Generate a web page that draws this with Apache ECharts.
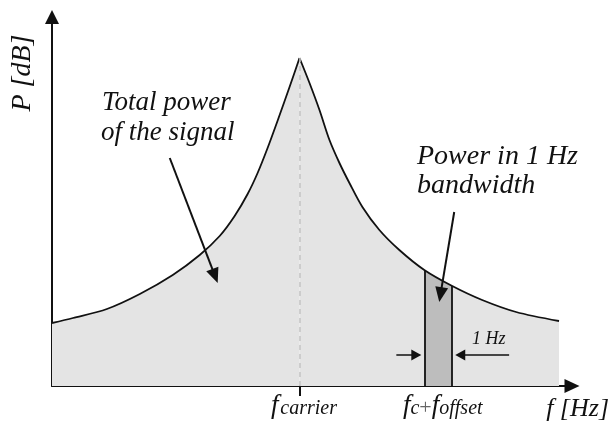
<!DOCTYPE html>
<html>
<head>
<meta charset="utf-8">
<script src="https://cdn.jsdelivr.net/npm/echarts@6/dist/echarts.min.js"></script>
<style>
  html, body { margin: 0; padding: 0; background: #fff; }
  #chart { width: 612px; height: 430px; }
</style>
</head>
<body>
<div id="chart"></div>
<script>
// Spectrum of a carrier with phase noise skirts (relative units: frequency, dB)
const carrierFreq = 24.8;
const leftSkirt = [
  [0, 6.3], [2.1, 6.8], [5.5, 7.7], [8.8, 9.2], [12.1, 11.1], [14.8, 13.1],
  [16.8, 15.0], [18.3, 17.0], [19.6, 19.2], [20.6, 21.3], [21.6, 23.8],
  [22.7, 26.8], [23.8, 29.9], [24.8, 32.8]
];
const rightSkirt = [
  [24.8, 32.8], [25.8, 30.3], [26.8, 27.6], [27.8, 24.6], [28.8, 22.3],
  [29.8, 20.3], [31.1, 17.9], [32.8, 15.6], [34.8, 13.6], [37.3, 11.6],
  [40.1, 10.0], [43.1, 8.6], [46.5, 7.4], [50.8, 6.5]
];
// 1 Hz measurement bin at f_c + f_offset
const binEdges = [37.3, 40.1];
const binTop = [[37.3, 11.6], [38.7, 10.75], [40.1, 10.0]];
const binCenter = 38.7;

// Annotation arrows: [from, to] in data units
const arrowTotal = [[11.8, 22.8], [16.6, 10.3]];
const arrowBin = [[40.3, 17.4], [38.8, 8.4]];
const arrowWidthLeft = [[34.5, 3.1], [37.0, 3.1]];
const arrowWidthRight = [[45.8, 3.1], [40.4, 3.1]];

const INK = '#111';
const SERIF = '"Liberation Serif", "DejaVu Serif", serif';
const SMOOTH = 0.3;

const chart = echarts.init(document.getElementById('chart'), null, { renderer: 'canvas' });

const flat = { symbol: 'none', animation: false, silent: true };

chart.setOption({
  animation: false,
  backgroundColor: '#fff',
  grid: { left: 52, top: 17, width: 521, height: 369 },
  xAxis: {
    type: 'value', min: 0, max: 52.1,
    splitLine: { show: false },
    axisLine: {
      show: true, onZero: false,
      symbol: ['none', 'triangle'], symbolSize: [14, 15],
      lineStyle: { color: INK, width: 2 }
    },
    axisTick: {
      show: true, customValues: [carrierFreq], length: 10,
      lineStyle: { color: INK, width: 2 }
    },
    axisLabel: {
      show: true, customValues: [carrierFreq, binCenter], margin: 6,
      fontFamily: SERIF, fontStyle: 'italic', color: INK,
      formatter: function (v) {
        if (Math.abs(v - carrierFreq) < 1e-6) return '{g| }{f|f}{s|\u200Acarrier}';
        return '{g| }{f|f}{s|c}{p|+}{f|f}{s|offset}';
      },
      rich: {
        g: { width: 9, fontSize: 10, lineHeight: 10, verticalAlign: 'bottom' },
        f: { fontSize: 27, lineHeight: 27, verticalAlign: 'bottom', fontFamily: SERIF, fontStyle: 'italic', color: INK },
        s: { fontSize: 20, lineHeight: 20, verticalAlign: 'bottom', fontFamily: SERIF, fontStyle: 'italic', color: INK },
        p: { fontSize: 22, lineHeight: 22, verticalAlign: 'bottom', fontFamily: SERIF, fontStyle: 'normal', color: '#666' }
      }
    },
    name: 'f [Hz]', nameLocation: 'end', nameGap: 37,
    nameTextStyle: {
      fontFamily: SERIF, fontStyle: 'italic', fontSize: 26, color: INK,
      align: 'right', verticalAlign: 'top', padding: [10, 0, 0, 0]
    }
  },
  yAxis: {
    type: 'value', min: 0, max: 36.9,
    splitLine: { show: false },
    axisTick: { show: false },
    axisLabel: { show: false },
    axisLine: {
      show: true, onZero: false,
      symbol: ['none', 'triangle'], symbolSize: [14, 14],
      lineStyle: { color: INK, width: 2 }
    }
  },
  series: [
    {
      type: 'line', data: leftSkirt, smooth: SMOOTH, ...flat, z: 1,
      lineStyle: { width: 0, opacity: 0 },
      areaStyle: { color: '#e4e4e4', opacity: 1 },
      markLine: {
        silent: true, symbol: ['none', 'none'], label: { show: false }, animation: false,
        lineStyle: { color: '#c4c4c4', width: 1.5, type: [5, 4] },
        data: [[{ coord: [carrierFreq, 0] }, { coord: leftSkirt[leftSkirt.length - 1] }]]
      }
    },
    {
      type: 'line', data: rightSkirt, smooth: SMOOTH, ...flat, z: 1,
      lineStyle: { width: 0, opacity: 0 },
      areaStyle: { color: '#e4e4e4', opacity: 1 }
    },
    {
      type: 'line', data: binTop, smooth: SMOOTH, ...flat, z: 2,
      lineStyle: { width: 0, opacity: 0 },
      areaStyle: { color: '#bdbdbd', opacity: 1 },
      markLine: {
        silent: true, symbol: ['none', 'none'], label: { show: false }, animation: false,
        lineStyle: { color: INK, width: 1.8, type: 'solid' },
        data: [
          [{ coord: [binEdges[0], 0] }, { coord: binTop[0] }],
          [{ coord: [binEdges[1], 0] }, { coord: binTop[binTop.length - 1] }]
        ]
      }
    },
    {
      type: 'line', data: leftSkirt, smooth: SMOOTH, ...flat, z: 3,
      lineStyle: { color: INK, width: 1.8 }
    },
    {
      type: 'line', data: rightSkirt, smooth: SMOOTH, ...flat, z: 3,
      lineStyle: { color: INK, width: 1.8 }
    }
  ]
});

// Arrows and captions, placed through the grid's coordinate system
const toPx = p => chart.convertToPixel({ gridIndex: 0 }, p);

function arrow(seg, headLen, headWidth, width) {
  const a = toPx(seg[0]), b = toPx(seg[1]);
  const dx = b[0] - a[0], dy = b[1] - a[1];
  const L = Math.hypot(dx, dy);
  const ux = dx / L, uy = dy / L;
  const bx = b[0] - ux * headLen, by = b[1] - uy * headLen;
  const nx = -uy * headWidth / 2, ny = ux * headWidth / 2;
  return [
    { type: 'line', z: 10, silent: true,
      shape: { x1: a[0], y1: a[1], x2: bx + ux, y2: by + uy },
      style: { stroke: INK, lineWidth: width } },
    { type: 'polygon', z: 10, silent: true,
      shape: { points: [[b[0], b[1]], [bx + nx, by + ny], [bx - nx, by - ny]] },
      style: { fill: INK } }
  ];
}

function caption(text, x, y, size, extra) {
  return Object.assign({
    type: 'text', x: x, y: y, z: 10, silent: true,
    style: {
      text: text, fill: INK, font: 'italic ' + size + 'px ' + SERIF,
      align: 'left', verticalAlign: 'middle'
    }
  }, extra || {});
}

chart.setOption({
  graphic: [
    ...arrow(arrowTotal, 15, 13, 2),
    ...arrow(arrowBin, 15, 13, 2),
    ...arrow(arrowWidthLeft, 10, 11, 1.5),
    ...arrow(arrowWidthRight, 10, 11, 1.5),
    caption('Total power', 102, 103, 27),
    caption('of the signal', 101, 133, 27),
    caption('Power in 1 Hz', 417, 157, 28),
    caption('bandwidth', 417, 186, 28),
    caption('1 Hz', 472, 339, 18),
    {
      type: 'text', x: 23, y: 73, rotation: Math.PI / 2, z: 10, silent: true,
      style: {
        text: 'P [dB]', fill: INK, font: 'italic 28px ' + SERIF,
        align: 'center', verticalAlign: 'middle'
      }
    }
  ]
});
</script>
</body>
</html>
